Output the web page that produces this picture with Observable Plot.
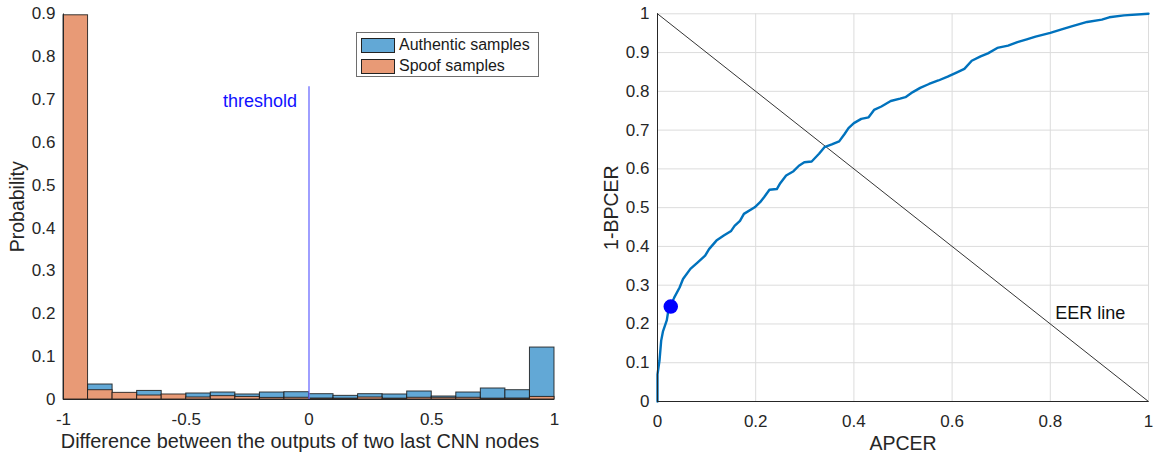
<!DOCTYPE html>
<html>
<head>
<meta charset="utf-8">
<script src="https://cdn.jsdelivr.net/npm/d3@7"></script>
<script src="https://cdn.jsdelivr.net/npm/@observablehq/plot@0.6"></script>
<style>
  body { margin: 0; background: #fff; }
  #wrap { position: relative; width: 1156px; height: 457px; display: flex; font-family: "Liberation Sans", Arial, sans-serif; }
  #legend { position: absolute; left: 356px; top: 32px; width: 183px; height: 45px; border: 1px solid #6e6e6e; background: #fff; box-sizing: border-box; }
  .lg-row { position: absolute; left: 4px; height: 16px; display: flex; align-items: center; font-size: 16px; color: #1a1a1a; }
  .lg-sw { width: 34px; height: 15px; border: 1px solid #222; box-sizing: border-box; margin-right: 4px; }
</style>
</head>
<body>
<div id="wrap">
  <div id="left"></div>
  <div id="right"></div>
  <div id="legend"></div>
</div>
<script>
// ---------- Histogram data (left) ----------
const binLeft  = [-1, -0.9, -0.8, -0.7, -0.6, -0.5, -0.4, -0.3, -0.2, -0.1, 0, 0.1, 0.2, 0.3, 0.4, 0.5, 0.6, 0.7, 0.8, 0.9];
const binWidth = 0.1;
const authentic = [0.0, 0.035, 0.013, 0.020, 0.010, 0.014, 0.0163, 0.0117, 0.0163, 0.017, 0.0124, 0.0085, 0.0124, 0.0117, 0.0187, 0.007, 0.0163, 0.0257, 0.0217, 0.1213];
const spoof     = [0.897, 0.0217, 0.0155, 0.0093, 0.0117, 0.0047, 0.0078, 0.006, 0.0037, 0.004, 0.0023, 0.002, 0.0047, 0.002, 0.004, 0.004, 0.004, 0.002, 0.0023, 0.006];
const seriesNames = ["Authentic samples", "Spoof samples"];
const seriesColors = ["#62a8d6", "#e89a76"];
const thresholdX = 0;
const thresholdTop = 0.73;
const thresholdLabel = "threshold";
const histXTicks = [-1, -0.5, 0, 0.5, 1];
const histYTicks = [0, 0.1, 0.2, 0.3, 0.4, 0.5, 0.6, 0.7, 0.8, 0.9];
const histXLabel = "Difference between the outputs of two last CNN nodes";
const histYLabel = "Probability";

// ---------- ROC data (right) ----------
const rocAPCER = [0, 0, 0.004, 0.0075, 0.011, 0.019, 0.022, 0.026, 0.034, 0.045, 0.052, 0.067, 0.082, 0.097, 0.105, 0.12, 0.135, 0.15, 0.157, 0.168, 0.176, 0.198, 0.209, 0.217, 0.228, 0.243, 0.25, 0.262, 0.277, 0.288, 0.299, 0.314, 0.329, 0.34, 0.355, 0.37, 0.381, 0.389, 0.4, 0.415, 0.43, 0.441, 0.456, 0.475, 0.494, 0.505, 0.52, 0.535, 0.553, 0.572, 0.591, 0.61, 0.625, 0.64, 0.658, 0.673, 0.692, 0.714, 0.733, 0.752, 0.77, 0.8, 0.823, 0.845, 0.875, 0.905, 0.92, 0.95, 1];
const rocTPR   = [0, 0.07, 0.105, 0.157, 0.18, 0.21, 0.234, 0.244, 0.268, 0.294, 0.316, 0.342, 0.359, 0.376, 0.393, 0.415, 0.428, 0.44, 0.453, 0.466, 0.484, 0.501, 0.514, 0.527, 0.546, 0.548, 0.563, 0.583, 0.594, 0.608, 0.617, 0.619, 0.639, 0.656, 0.663, 0.671, 0.69, 0.705, 0.718, 0.729, 0.733, 0.752, 0.761, 0.775, 0.781, 0.785, 0.798, 0.809, 0.819, 0.828, 0.838, 0.849, 0.858, 0.879, 0.89, 0.898, 0.912, 0.918, 0.927, 0.934, 0.941, 0.951, 0.96, 0.968, 0.979, 0.985, 0.991, 0.996, 1];
const opPoint = {x: 0.027, y: 0.245};
const eerLine = [{x: 0, y: 1}, {x: 1, y: 0}];
const eerLabel = {x: 0.81, y: 0.227, text: "EER line"};
const rocXTicks = [0, 0.2, 0.4, 0.6, 0.8, 1];
const rocYTicks = [0, 0.1, 0.2, 0.3, 0.4, 0.5, 0.6, 0.7, 0.8, 0.9, 1];
const rocXLabel = "APCER";
const rocYLabel = "1-BPCER";

const fmt = d => String(d);
const axisColor = "#262626";
const font = "'Liberation Sans', Arial, sans-serif";
const labelSize = 19.5;

// ---------- Left chart ----------
const authData = binLeft.map((b, i) => ({x1: b, x2: b + binWidth, y: authentic[i]}));
const spoofData = binLeft.map((b, i) => ({x1: b, x2: b + binWidth, y: spoof[i]}));

const left = Plot.plot({
  width: 580, height: 457,
  marginLeft: 63, marginRight: 26, marginTop: 13.5, marginBottom: 58,
  style: {fontFamily: font, fontSize: "17px", color: axisColor, background: "transparent"},
  x: {domain: [-1, 1]},
  y: {domain: [0, 0.9]},
  marks: [
    Plot.rect(authData, {x1: "x1", x2: "x2", y1: 0, y2: "y", fill: seriesColors[0], stroke: "#1a1a1a", strokeWidth: 1, strokeOpacity: 0.85}),
    Plot.rect(spoofData, {x1: "x1", x2: "x2", y1: 0, y2: "y", fill: seriesColors[1], stroke: "#1a1a1a", strokeWidth: 1, strokeOpacity: 0.85}),
    Plot.ruleX([thresholdX], {y1: 0, y2: thresholdTop, stroke: "#6b6bff", strokeWidth: 1.3}),
    Plot.text([thresholdLabel], {x: thresholdX, y: 0.697, text: d => d, textAnchor: "end", dx: -12, fill: "#1010ff", fontSize: 18}),
    Plot.ruleX([-1], {stroke: axisColor, strokeWidth: 1}),
    Plot.ruleY([0], {stroke: axisColor, strokeWidth: 1}),
    Plot.axisX({ticks: histXTicks, tickFormat: fmt, tickSize: 0, tickPadding: 13, label: null}),
    Plot.axisY({ticks: histYTicks, tickFormat: fmt, tickSize: 0, tickPadding: 8, label: null}),
    Plot.text([histXLabel], {frameAnchor: "bottom", text: d => d, textAnchor: "middle", lineAnchor: "middle", dx: -9, dy: 42.5, fontSize: 19.9, fill: axisColor}),
    Plot.text([histYLabel], {frameAnchor: "left", text: d => d, textAnchor: "middle", lineAnchor: "middle", rotate: -90, dx: -46, fontSize: labelSize, fill: axisColor})
  ]
});
document.getElementById("left").appendChild(left);

// ---------- Right chart ----------
const rocData = rocAPCER.map((x, i) => ({x, y: rocTPR[i]}));
const right = Plot.plot({
  width: 576, height: 457,
  marginLeft: 77, marginRight: 8, marginTop: 13.3, marginBottom: 56,
  style: {fontFamily: font, fontSize: "17px", color: axisColor, background: "transparent"},
  x: {domain: [0, 1]},
  y: {domain: [0, 1]},
  marks: [
    Plot.gridX(rocXTicks, {stroke: "#dcdcdc", strokeOpacity: 1, strokeWidth: 1}),
    Plot.gridY(rocYTicks, {stroke: "#dcdcdc", strokeOpacity: 1, strokeWidth: 1}),
    Plot.line(eerLine, {x: "x", y: "y", stroke: "#000", strokeWidth: 0.8}),
    Plot.line(rocData, {x: "x", y: "y", stroke: "#0072bd", strokeWidth: 2.4}),
    Plot.dot([opPoint], {x: "x", y: "y", r: 6.5, fill: "#0000ff", stroke: "#0000ff"}),
    Plot.text([eerLabel], {x: "x", y: "y", text: "text", textAnchor: "start", fontSize: 18, fill: "#111"}),
    Plot.ruleX([0], {stroke: axisColor, strokeWidth: 1}),
    Plot.ruleY([0], {stroke: axisColor, strokeWidth: 1}),
    Plot.axisX({ticks: rocXTicks, tickFormat: fmt, tickSize: 0, tickPadding: 13, label: null}),
    Plot.axisY({ticks: rocYTicks, tickFormat: fmt, tickSize: 0, tickPadding: 8, label: null}),
    Plot.text([rocXLabel], {frameAnchor: "bottom", text: d => d, textAnchor: "middle", lineAnchor: "middle", dy: 42, fontSize: labelSize, fill: axisColor}),
    Plot.text([rocYLabel], {frameAnchor: "left", text: d => d, textAnchor: "middle", lineAnchor: "middle", rotate: -90, dx: -46, fontSize: labelSize, fill: axisColor})
  ]
});
document.getElementById("right").appendChild(right);

// ---------- Legend ----------
const legend = document.getElementById("legend");
seriesNames.forEach((name, i) => {
  const row = document.createElement("div");
  row.className = "lg-row";
  row.style.top = (i === 0 ? 4 : 25) + "px";
  const sw = document.createElement("span");
  sw.className = "lg-sw";
  sw.style.background = seriesColors[i];
  const t = document.createElement("span");
  t.textContent = name;
  row.appendChild(sw); row.appendChild(t);
  legend.appendChild(row);
});
</script>
</body>
</html>
